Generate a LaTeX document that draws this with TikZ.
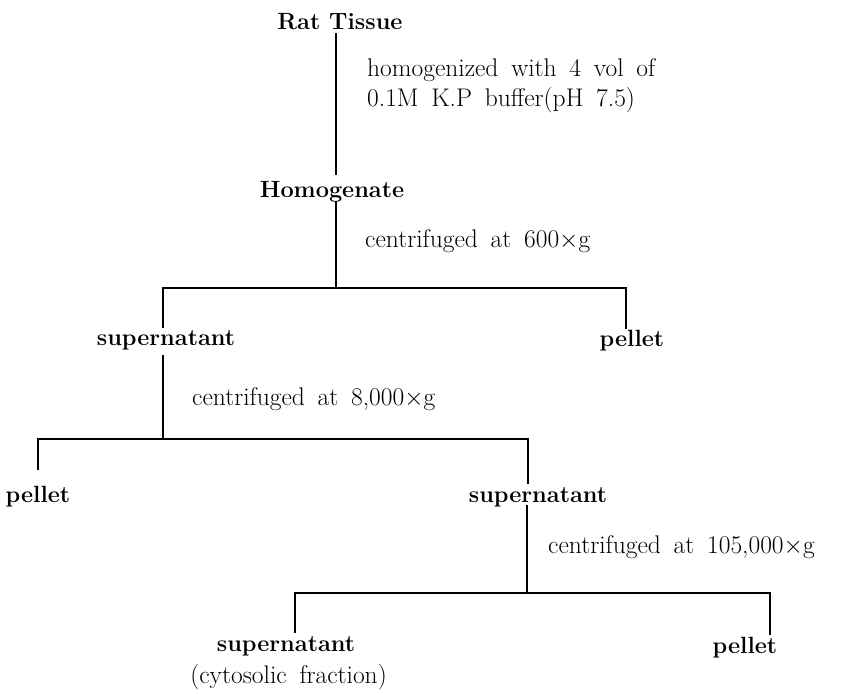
\documentclass[tikz,border=0pt]{standalone}
\newcommand\mywidespaces{\spaceskip=0.5em plus 0.1em\relax}
\begin{document}
\begin{tikzpicture}[x=1pt,y=-1pt,
  lbl/.style={inner sep=0pt, anchor=base, text height=18pt, text depth=3pt,
    font=\fontsize{23.5}{28}\selectfont\bfseries},
  note/.style={inner sep=0pt, anchor=base west,
    font=\fontsize{25.5}{30}\selectfont},
  conn/.style={line width=1.3pt}]
\useasboundingbox (0,0) rectangle (847,695);
% nodes
\node[lbl] (rat) at (340,30) {Rat Tissue};
\node[lbl] (homog) at (332,198) {Homogenate};
\node[lbl] (sup1) at (166,346) {supernatant};
\node[lbl] (pel1) at (632,347) {pellet};
\node[lbl] (pel2) at (38,502) {pellet};
\node[lbl] (sup2) at (538,502) {supernatant};
\node[lbl] (sup3) at (286,651) {supernatant};
\node[lbl] (pel3) at (745,653) {pellet};
% notes
\node[note] (n1) at (367,77) {\mywidespaces homogenized with 4 vol of};
\node[note] (n2) at (367,107) {\mywidespaces 0.1M K.P buffer(pH 7.5)};
\node[note] (n3) at (365,248) {\mywidespaces centrifuged at 600$\times$g};
\node[note] (n4) at (192,406) {\mywidespaces centrifuged at 8,000$\times$g};
\node[note] (n5) at (548,553) {\mywidespaces centrifuged at 105,000$\times$g};
\node[note, anchor=base east] (n6) at (387,683) {\mywidespaces (cytosolic fraction)};
% junctions
\coordinate (j1) at (336,288);
\coordinate (l1) at (163,288);
\coordinate (r1) at (626,288);
\coordinate (j2) at (163,439);
\coordinate (l2) at (38,439);
\coordinate (r2) at (528,439);
\coordinate (j3) at (527,593);
\coordinate (l3) at (295,593);
\coordinate (r3) at (770,593);
% connectors
\draw[conn, shorten >=5pt] (rat.south -| j1) -- (homog.north -| j1);
\draw[conn] (homog.south -| j1) -- (j1);
\draw[conn] (sup1.north -| l1) -- (l1) -- (r1) -- (pel1.north -| r1);
\draw[conn, shorten <=6pt] (sup1.south -| j2) -- (j2);
\draw[conn, shorten <=14pt] (pel2.north -| l2) -- (l2) -- (r2) -- (sup2.north -| r2);
\draw[conn] (sup2.south -| j3) -- (j3);
\draw[conn] (sup3.north -| l3) -- (l3) -- (r3) -- (pel3.north -| r3);
\end{tikzpicture}
\end{document}
